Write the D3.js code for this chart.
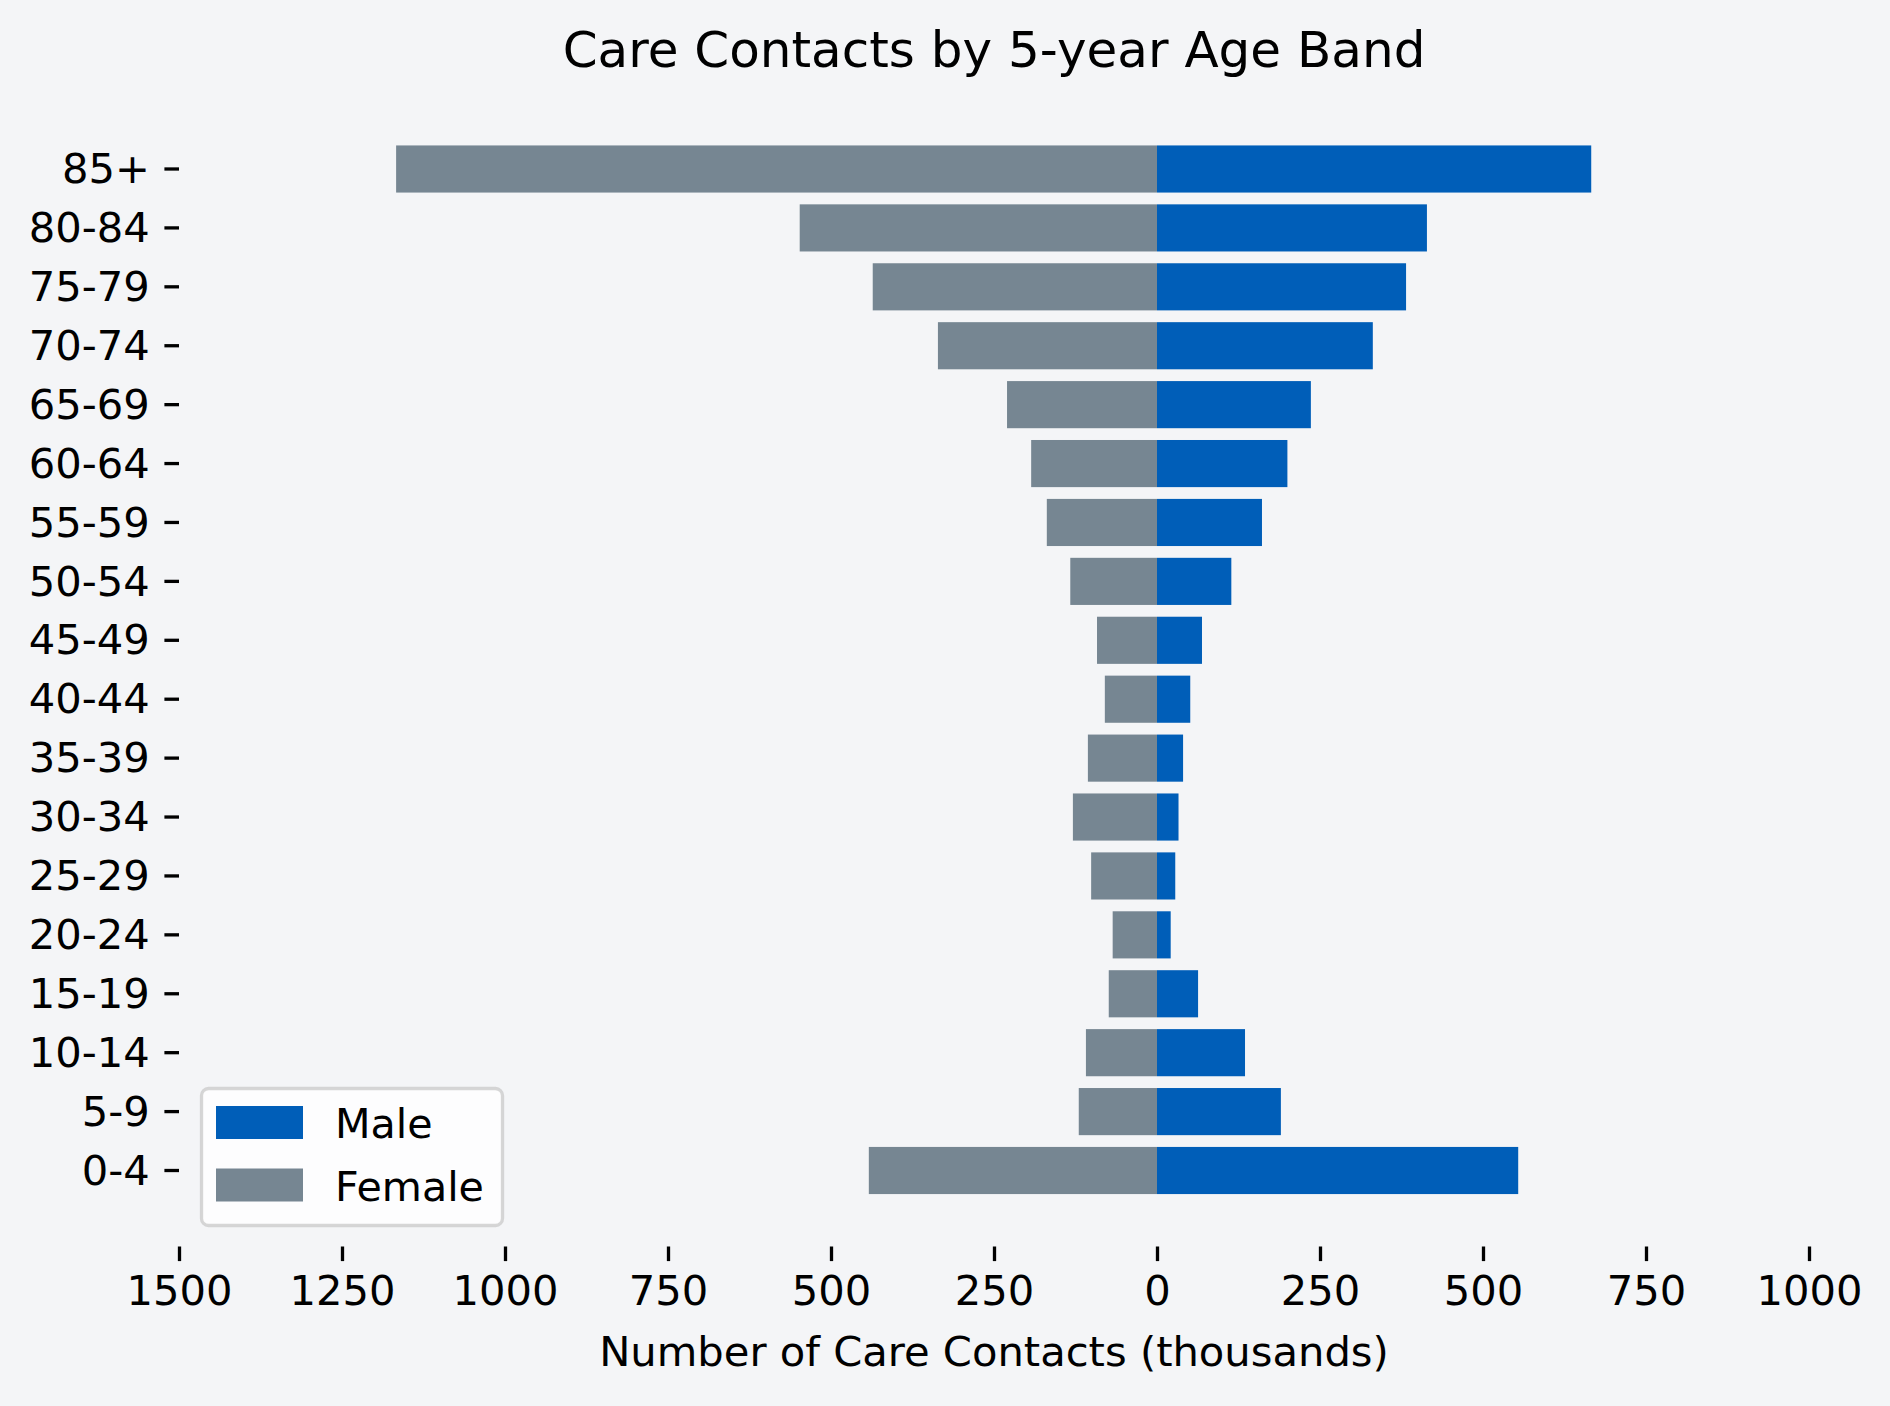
<!DOCTYPE html>
<html>
<head>
<meta charset="utf-8">
<script src="https://cdn.jsdelivr.net/npm/d3@7"></script>
<style>
  html, body { margin: 0; padding: 0; background: #f4f5f7; }
  svg { display: block; font-family: "DejaVu Sans", sans-serif; }
  .axis path.domain { display: none; }
  .axis line { stroke: #000; stroke-width: 3.3px; }
  .axis text { fill: #000; font-size: 41.67px; font-family: "DejaVu Sans", sans-serif; }
</style>
</head>
<body>
<div id="chart"></div>
<script>
// Age bands, youngest first (thousands of care contacts)
const ageBands = ['0-4', '5-9', '10-14', '15-19', '20-24', '25-29', '30-34', '35-39', '40-44',
  '45-49', '50-54', '55-59', '60-64', '65-69', '70-74', '75-79', '80-84', '85+'];
const maleContacts = [554, 190, 135, 63, 21, 28, 33, 40, 51, 69, 114, 161, 200, 236, 331, 382, 414, 666];
const femaleContacts = [442, 120, 109, 74, 68, 101, 129, 106, 80, 92, 133, 169, 193, 230, 336, 436, 548, 1167];
const xTicks = [-1500, -1250, -1000, -750, -500, -250, 0, 250, 500, 750, 1000];
const seriesNames = ['Male', 'Female'];

class PyramidChart {

  constructor(_config) {
    this.config = {
      parentElement: _config.parentElement,
      containerWidth: _config.containerWidth || 1890,
      containerHeight: _config.containerHeight || 1406,
      margin: _config.margin || {top: 93, right: 81, bottom: 159.5, left: 179}
    };
    this.colors = {Male: '#005eb8', Female: '#768692'};
    this.initVis();
  }

  initVis() {
    let vis = this;
    const m = vis.config.margin;

    vis.width = vis.config.containerWidth - m.left - m.right;
    vis.height = vis.config.containerHeight - m.top - m.bottom;

    vis.svg = d3.select(vis.config.parentElement)
      .append('svg')
      .attr('width', vis.config.containerWidth)
      .attr('height', vis.config.containerHeight);

    vis.svg.append('rect')
      .attr('width', vis.config.containerWidth)
      .attr('height', vis.config.containerHeight)
      .attr('fill', '#f4f5f7');

    vis.chart = vis.svg.append('g')
      .attr('transform', `translate(${m.left},${m.top})`);

    // females go left as negative values
    vis.xScale = d3.scaleLinear()
      .domain([xTicks[0], xTicks[xTicks.length - 1]])
      .range([0, vis.width]);

    vis.yScale = d3.scaleBand()
      .domain(ageBands.slice().reverse())
      .range([0, vis.height])
      .paddingInner(0.2)
      .paddingOuter(0.89);

    vis.xAxis = d3.axisBottom(vis.xScale)
      .tickValues(xTicks)
      .tickFormat(d => Math.abs(d))
      .tickSize(14.6)
      .tickPadding(14.6);

    vis.yAxis = d3.axisLeft(vis.yScale)
      .tickSize(14.6)
      .tickPadding(14.6);

    vis.xAxisG = vis.chart.append('g')
      .attr('class', 'axis x-axis')
      .attr('transform', `translate(0,${vis.height})`);

    vis.yAxisG = vis.chart.append('g')
      .attr('class', 'axis y-axis');

    vis.svg.append('text')
      .attr('x', m.left + vis.width / 2)
      .attr('y', 67)
      .attr('text-anchor', 'middle')
      .attr('font-size', '50px')
      .attr('fill', '#000')
      .text('Care Contacts by 5-year Age Band');

    vis.svg.append('text')
      .attr('x', m.left + vis.width / 2)
      .attr('y', 1366)
      .attr('text-anchor', 'middle')
      .attr('font-size', '41.67px')
      .attr('fill', '#000')
      .text('Number of Care Contacts (thousands)');
  }

  updateVis() {
    let vis = this;

    vis.data = ageBands.map((band, i) => ({
      band: band,
      male: maleContacts[i],
      female: femaleContacts[i]
    }));

    vis.xAxisG.call(vis.xAxis);
    vis.yAxisG.call(vis.yAxis);
    vis.yAxisG.selectAll('text').attr('dy', '0.34em');

    const x0 = vis.xScale(0);

    vis.chart.selectAll('.bar-female')
      .data(vis.data)
      .join('rect')
      .attr('class', 'bar-female')
      .attr('x', d => vis.xScale(-d.female))
      .attr('y', d => vis.yScale(d.band))
      .attr('width', d => x0 - vis.xScale(-d.female))
      .attr('height', vis.yScale.bandwidth())
      .attr('fill', vis.colors.Female);

    vis.chart.selectAll('.bar-male')
      .data(vis.data)
      .join('rect')
      .attr('class', 'bar-male')
      .attr('x', x0)
      .attr('y', d => vis.yScale(d.band))
      .attr('width', d => vis.xScale(d.male) - x0)
      .attr('height', vis.yScale.bandwidth())
      .attr('fill', vis.colors.Male);

    vis.renderLegend();
  }

  renderLegend() {
    let vis = this;

    const legend = vis.svg.append('g')
      .attr('class', 'legend')
      .attr('transform', 'translate(200,1087)');

    legend.append('rect')
      .attr('x', 1.5)
      .attr('y', 1.5)
      .attr('width', 301)
      .attr('height', 137)
      .attr('rx', 7)
      .attr('fill', '#ffffff')
      .attr('fill-opacity', 0.8)
      .attr('stroke', '#cccccc')
      .attr('stroke-opacity', 0.8)
      .attr('stroke-width', 3.3);

    const items = legend.selectAll('.legend-item')
      .data(seriesNames)
      .join('g')
      .attr('class', 'legend-item')
      .attr('transform', (d, i) => `translate(0,${i * 62.5})`);

    items.append('rect')
      .attr('x', 16)
      .attr('y', 19)
      .attr('width', 87)
      .attr('height', 33)
      .attr('fill', d => vis.colors[d]);

    items.append('text')
      .attr('x', 135)
      .attr('y', 51)
      .attr('font-size', '41.2px')
      .attr('fill', '#000')
      .text(d => d);
  }
}

const pyramid = new PyramidChart({parentElement: '#chart'});
pyramid.updateVis();
</script>
</body>
</html>
